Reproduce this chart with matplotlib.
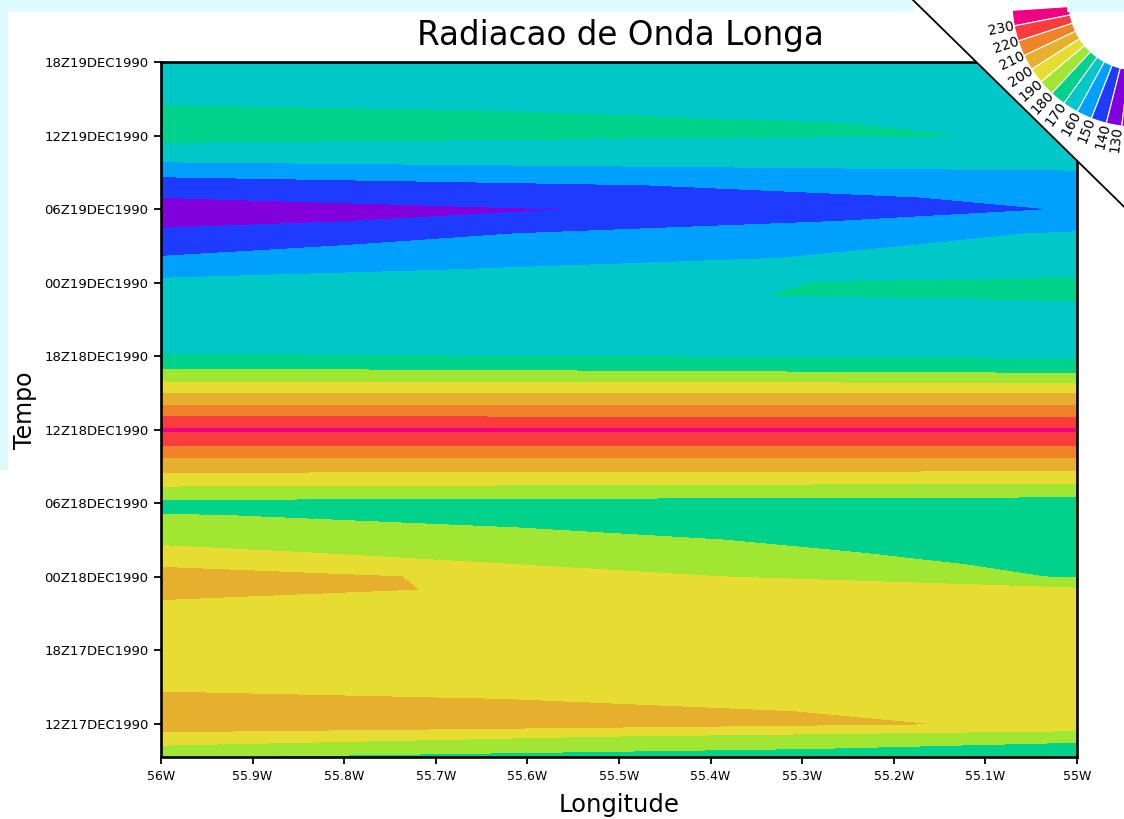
import numpy as np
import matplotlib
matplotlib.use("Agg")
import matplotlib.pyplot as plt
from matplotlib.patches import Wedge, Polygon, Rectangle

# hourly, 09Z17DEC1990 .. 18Z19DEC1990 (hours since 00Z17DEC1990)
hours = np.arange(9, 67)
lons = [-56.0, -55.0]

# OLR (W/m2) at 56W and 55W, oldest first
olr_56w = [177.5, 187.6, 196.6, 206, 204, 201.5, 199, 198, 196.5, 195.5,
           195.5, 196, 197.5, 199.4, 203.5, 207.5, 197.9, 192.5, 188, 183.5,
           180.4, 177, 186.2, 195.4, 203.9, 212.8, 222.3, 231.5, 220.7, 210.2,
           199.8, 189, 179.7, 170.6, 167.5, 166, 165, 164, 163, 161.5,
           157.5, 150.6, 146.9, 143.1, 136.2, 131.5, 140.3, 144.4, 152.9, 161,
           167.1, 173.3, 174.5, 171.2, 168.6, 166.8, 165.8, 165]
olr_55w = [174, 177, 183, 198.8, 198.2, 197.5, 196.5, 196, 195.5, 195,
           194.5, 194, 193.5, 192.5, 191, 179, 177.5, 176, 175, 174.5,
           175, 176, 183.5, 193.5, 203.3, 212.8, 222.3, 231.5, 220.2, 210.2,
           199.8, 187.5, 175.2, 169, 166.5, 165.5, 165, 166, 173.5, 173.5,
           166, 164.5, 163, 161, 155, 150.5, 152, 155, 159.5, 162,
           168, 169.5, 168.5, 168, 167.5, 167, 166.5, 166]

levels = [130, 140, 150, 160, 170, 180, 190, 200, 210, 220, 230]
# grads rainbow, lowest first
shade_colors = ["#a000c8", "#8200dc", "#1e3cff", "#00a0ff", "#00c8c8", "#00d28c",
                "#a0e632", "#e6dc32", "#e6af2d", "#f08228", "#fa3c3c", "#f00082"]

ytick_hours = [12, 18, 24, 30, 36, 42, 48, 54, 60, 66]
ytick_labels = ["12Z17DEC1990", "18Z17DEC1990", "00Z18DEC1990", "06Z18DEC1990",
                "12Z18DEC1990", "18Z18DEC1990", "00Z19DEC1990", "06Z19DEC1990",
                "12Z19DEC1990", "18Z19DEC1990"]
xtick_lons = [-56, -55.9, -55.8, -55.7, -55.6, -55.5, -55.4, -55.3, -55.2, -55.1, -55]
xtick_labels = ["56W", "55.9W", "55.8W", "55.7W", "55.6W", "55.5W",
                "55.4W", "55.3W", "55.2W", "55.1W", "55W"]

W, H = 1124, 819
fig = plt.figure(figsize=(W / 100, H / 100), dpi=100)
ax = fig.add_axes([161 / W, 1 - 757 / H, (1077 - 161) / W, (757 - 62.3) / H])

Z = np.column_stack([olr_56w, olr_55w])
ax.contourf(lons, hours, Z, levels=[0] + levels + [400], colors=shade_colors)

ax.set_xlim(-56, -55)
ax.set_ylim(9.3, 66)
ax.set_xticks(xtick_lons)
ax.set_xticklabels(xtick_labels, fontsize=9)
ax.set_yticks(ytick_hours)
ax.set_yticklabels(ytick_labels, fontsize=9.5)
ax.tick_params(direction="out", length=5, width=1.3, pad=4)
for s in ax.spines.values():
    s.set_linewidth(1.9)

# overlay in pixel coords for labels and the corner colour fan
ov = fig.add_axes([0, 0, 1, 1])
ov.set_xlim(0, W)
ov.set_ylim(H, 0)
ov.axis("off")

ov.add_patch(Polygon([(913, 0), (W, 0), (W, 206.7)], closed=True,
                     facecolor="white", edgecolor="none"))
ov.plot([913, W], [0, 206.7], color="black", lw=1.3)

cx, cy = 1137, 2
r_out, r_in = 125, 68
a0, step = 169, 7.2
fan = shade_colors[::-1]
for i, c in enumerate(fan):
    t2 = a0 + step - i * step
    ov.add_patch(Wedge((cx, cy), r_out, t2 - step, t2, width=r_out - r_in,
                       facecolor=c, edgecolor="white", lw=0.8))
for i, lev in enumerate(levels[::-1]):
    phi = a0 - i * step
    r = 138
    x = min(cx + r * np.cos(np.radians(phi)), 1116)
    y = cy + r * np.sin(np.radians(phi))
    ov.text(x, y, str(lev), fontsize=10, rotation=180 - phi, ha="center",
            va="center", rotation_mode="anchor")

# light cyan strips at the picture edges
strip = "#ddfbfc"
ov.add_patch(Rectangle((0, 0), 913, 11.5, facecolor=strip, edgecolor="none"))
ov.add_patch(Rectangle((1067, 0), W - 1067, 11.5, facecolor=strip, edgecolor="none"))
ov.add_patch(Rectangle((0, 0), 8, 470, facecolor=strip, edgecolor="none"))

ov.text(620, 35, "Radiacao de Onda Longa", fontsize=23.5, ha="center", va="center")
ov.text(619, 805, "Longitude", fontsize=17.5, ha="center", va="center")
ov.text(25, 410, "Tempo", fontsize=17, ha="center", va="center", rotation=90)

fig.savefig("out.png", dpi=100)
